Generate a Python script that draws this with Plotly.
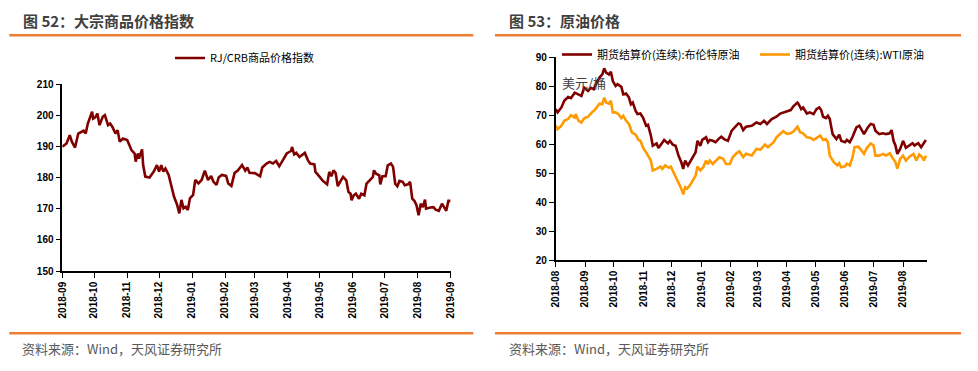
import pandas as pd
import plotly.graph_objects as go

W, H = 978, 371

# ---------------- data ----------------
crb_base = "2018-09-01"
crb_days = [0, 4, 7, 9, 12, 15, 20, 22, 24, 28, 29, 31, 33, 35, 38, 40, 43, 45, 47, 50,
            52, 54, 57, 61, 63, 65, 68, 69, 71, 72, 75, 76, 78, 82, 86, 89, 91, 93, 95, 97,
            100, 103, 105, 108, 110, 112, 114, 116, 118, 120, 123, 125, 128, 131, 134, 137, 140, 142, 145, 147,
            150, 154, 156, 159, 162, 165, 169, 172, 174, 176,
            181, 186, 188, 192, 195, 198, 201, 204, 208, 211, 215, 216, 218, 220, 223, 226, 228, 231, 233, 237,
            238, 242, 245, 249, 251, 253, 255, 257, 259, 262, 264, 267, 269, 271, 272, 274, 276, 279, 281, 284,
            286, 289, 292, 293, 295, 298, 299, 301, 304, 306, 309, 311, 313, 315, 317, 320, 322, 325, 327, 329,
            331, 333, 335, 337, 339, 341, 342, 346, 349, 351, 354, 357, 359, 361, 363, 365]
crb_values = [189.9, 190.9, 193.6, 191.5, 189.6, 194.1, 195.0, 194.1, 197.3, 201.1, 198.9, 199.3, 200.5, 196.8, 199.5, 200.0, 196.8, 197.3, 196.3, 194.1,
              195.2, 191.5, 192.5, 192.0, 190.4, 188.8, 187.7, 185.1, 187.7, 186.1, 189.0, 184.0, 180.3, 180.0, 181.9, 184.0, 181.9, 184.0, 181.9, 182.9,
              180.8, 177.1, 173.9, 171.2, 168.5, 172.8, 170.1, 170.6, 169.6, 173.3, 174.4, 179.2, 178.1, 179.2, 182.2, 179.2, 180.5, 178.7, 177.6, 180.0,
              180.8, 180.5, 178.1, 177.3, 181.5, 182.2, 184.0, 182.2, 183.2, 181.5,
              181.4, 180.4, 183.2, 184.5, 185.0, 184.5, 185.3, 183.6, 186.1, 187.7, 188.5, 189.8, 187.4, 187.9, 186.6, 187.4, 187.9, 185.5, 184.5, 184.2,
              181.8, 180.2, 178.9, 177.8, 181.8, 180.4, 182.3, 181.4, 177.2, 179.1, 180.2, 179.1, 175.4, 174.8, 172.7, 174.3, 174.8, 173.2, 174.8, 174.3,
              178.0, 179.1, 180.2, 182.3, 181.2, 180.7, 177.8, 180.4, 180.4, 183.9, 184.5, 183.4, 178.0, 177.2, 178.9, 178.6, 177.5, 177.8, 178.6, 173.2,
              172.5, 171.1, 167.9, 171.6, 170.5, 172.9, 170.0, 170.4, 170.5, 169.7, 169.3, 171.6, 170.4, 169.3, 172.5, 172.5]

oil_base = "2018-08-01"
brent_days = [0, 2, 6, 9, 13, 16, 20, 23, 27, 30, 34, 37, 40, 43, 46, 49, 51, 53, 56, 58,
              60, 63, 65, 69, 71, 74, 77, 79, 81, 84, 86, 89, 92, 95, 97, 100, 102, 106, 108, 111,
              114, 118, 120, 123, 126, 129, 132, 134, 136, 139, 141, 144, 147, 149, 152, 154, 158, 160, 162, 165,
              168, 171, 174, 177, 181, 185, 188, 192,
              194, 197, 200, 206, 211, 215, 219, 222, 227, 232, 236, 239, 243, 247, 250, 254, 255, 258, 260, 264,
              267, 271, 274, 277, 279, 281, 284, 286, 288, 291, 295, 298, 300, 304, 306, 309, 312, 316, 319, 322,
              324, 328, 331, 334, 336, 340, 344, 347, 351, 353, 355, 357, 359, 362, 365, 368, 371, 375, 377, 381,
              384, 387, 389]
brent_values = [72.0, 70.9, 72.6, 74.9, 76.2, 75.8, 77.7, 77.1, 76.6, 79.4, 78.3, 79.4, 78.9, 81.1, 82.9, 84.0, 86.1, 84.6, 84.0, 84.9,
                81.7, 80.0, 80.6, 79.7, 77.1, 77.4, 76.0, 73.7, 74.3, 71.4, 70.3, 70.5, 68.9, 66.3, 66.6, 62.9, 59.4, 60.2, 58.6, 60.0,
                61.4, 60.2, 61.1, 59.8, 59.4, 56.0, 53.7, 51.4, 54.3, 52.6, 53.7, 55.4, 57.1, 61.1, 59.4, 61.4, 62.3, 60.6, 61.4, 61.1,
                60.6, 61.7, 62.5, 61.7, 61.1, 64.6, 65.7, 67.1,
                66.9, 64.8, 66.0, 66.3, 67.4, 66.9, 68.0, 66.9, 68.6, 69.4, 70.5, 70.9, 71.4, 71.7, 73.1, 74.3, 73.9, 72.0, 72.6, 70.5,
                70.9, 70.3, 72.0, 72.6, 71.7, 69.4, 68.9, 69.7, 68.6, 63.4, 61.7, 63.2, 61.1, 60.6, 61.4, 60.6, 62.5, 65.7, 66.3, 64.8,
                63.4, 65.7, 66.9, 66.6, 64.6, 63.4, 63.7, 63.4, 63.7, 64.8, 61.1, 59.5, 56.6, 58.3, 61.1, 58.7, 59.5, 60.3, 59.5, 60.3,
                58.9, 60.6, 61.4]

wti_days = [0, 2, 6, 9, 13, 16, 20, 21, 24, 27, 30, 34, 38, 41, 46, 49, 51, 53, 56, 58,
            60, 63, 66, 69, 71, 74, 77, 80, 84, 87, 89, 92, 95, 98, 100, 102, 106, 110, 112, 115,
            119, 121, 123, 126, 129, 132, 134, 136, 138, 141, 144, 147, 149, 152, 155, 158, 160, 162, 165, 169,
            172, 176, 179, 183, 186, 190, 193,
            197, 200, 206, 211, 215, 220, 223, 229, 232, 236, 239, 243, 247, 250, 254, 257, 260, 264, 268, 271,
            275, 278, 281, 284, 286, 288, 292, 296, 298, 300, 304, 306, 309, 312, 314, 318, 320, 324, 327, 331,
            334, 336, 340, 344, 347, 351, 354, 357, 359, 362, 365, 368, 372, 376, 379, 382, 385, 387, 389]
wti_values = [66.3, 65.1, 66.3, 68.0, 68.6, 69.9, 69.1, 70.3, 68.0, 67.4, 68.9, 69.4, 70.9, 71.7, 73.9, 73.7, 76.0, 74.3, 73.9, 74.9,
              70.9, 70.9, 70.3, 68.9, 69.7, 68.0, 66.9, 64.0, 63.2, 61.4, 61.1, 58.6, 57.1, 55.4, 54.3, 50.9, 51.4, 52.2, 51.4, 52.6,
              51.8, 52.2, 50.9, 48.6, 46.9, 44.6, 42.6, 45.1, 44.6, 45.7, 47.4, 49.1, 52.2, 50.9, 52.0, 54.3, 53.1, 54.3, 53.1, 54.3,
              55.4, 54.9, 53.1, 53.1, 55.4, 56.8, 57.5,
              55.5, 56.6, 56.0, 58.3, 58.0, 59.8, 58.9, 60.6, 62.3, 63.7, 64.4, 63.5, 63.7, 64.4, 66.0, 64.0, 63.7, 62.3, 62.1, 61.4,
              62.3, 62.9, 61.4, 61.7, 60.6, 56.0, 53.8, 52.6, 53.4, 52.0, 52.3, 53.2, 52.6, 55.5, 58.9, 59.1, 58.3, 56.6, 58.6, 60.2,
              59.5, 56.0, 56.0, 56.6, 56.0, 56.8, 55.2, 53.8, 51.5, 54.9, 56.0, 54.3, 55.7, 56.6, 54.3, 56.4, 55.5, 54.3, 56.0]

assert len(crb_days) == len(crb_values)
assert len(brent_days) == len(brent_values)
assert len(wti_days) == len(wti_values)

crb_dates = pd.Timestamp(crb_base) + pd.to_timedelta(crb_days, unit="D")
brent_dates = pd.Timestamp(oil_base) + pd.to_timedelta(brent_days, unit="D")
wti_dates = pd.Timestamp(oil_base) + pd.to_timedelta(wti_days, unit="D")

left_title = "图 52：大宗商品价格指数"
right_title = "图 53：原油价格"
source_text = "资料来源：Wind，天风证券研究所"
crb_name = "RJ/CRB商品价格指数"
brent_name = "期货结算价(连续):布伦特原油"
wti_name = "期货结算价(连续):WTI原油"
unit_text = "美元/桶"

# ---------------- styling ----------------
DARK_RED = "#800000"
ORANGE_LINE = "#FF9A00"
RULE = "#ED7D31"
CJK = "Noto Sans CJK SC"
TICKFONT = dict(family="Liberation Sans", size=10, color="#000000", weight="bold")


def px(x):
    return x / W


def py(y):
    return 1 - y / H


fig = go.Figure()
fig.add_trace(go.Scatter(x=crb_dates, y=crb_values, mode="lines", name=crb_name,
                         line=dict(color=DARK_RED, width=2.6), xaxis="x", yaxis="y", legend="legend"))
fig.add_trace(go.Scatter(x=brent_dates, y=brent_values, mode="lines", name=brent_name,
                         line=dict(color=DARK_RED, width=2.6), xaxis="x2", yaxis="y2", legend="legend2"))
fig.add_trace(go.Scatter(x=wti_dates, y=wti_values, mode="lines", name=wti_name,
                         line=dict(color=ORANGE_LINE, width=2.6), xaxis="x2", yaxis="y2", legend="legend3"))

axis_common = dict(showgrid=False, zeroline=False, showline=True, linecolor="#000000", linewidth=1.5,
                   ticks="outside", ticklen=5, tickwidth=1.2, tickcolor="#000000", tickfont=TICKFONT,
                   automargin=False)

legend_font = dict(family=CJK, size=11, color="#000000")

fig.update_layout(
    width=W, height=H, autosize=False,
    margin=dict(l=0, r=0, t=0, b=0, pad=0, autoexpand=False),
    paper_bgcolor="white", plot_bgcolor="white",
    xaxis=dict(domain=[px(62.3), px(450.7)], anchor="y", type="date",
               range=["2018-09-01", "2019-09-01 04:00"], dtick="M1", tick0="2018-09-01",
               tickformat="%Y-%m", tickangle=-90, **axis_common),
    yaxis=dict(domain=[py(271), py(84)], anchor="x", range=[150, 210], dtick=10, **axis_common),
    xaxis2=dict(domain=[px(555.7), px(927.3)], anchor="y2", type="date",
                range=["2018-08-01", "2019-08-26 12:00"], dtick="M1", tick0="2018-08-01",
                tickformat="%Y-%m", tickangle=-90, **axis_common),
    yaxis2=dict(domain=[py(260), py(57)], anchor="x2", range=[20, 90], dtick=10, **axis_common),
    legend=dict(x=px(170), y=py(58), xanchor="left", yanchor="middle", orientation="h",
                bgcolor="rgba(0,0,0,0)", font=legend_font),
    legend2=dict(x=px(557), y=py(54.5), xanchor="left", yanchor="middle", orientation="h",
                 bgcolor="rgba(0,0,0,0)", font=legend_font),
    legend3=dict(x=px(755), y=py(54.5), xanchor="left", yanchor="middle", orientation="h",
                 bgcolor="rgba(0,0,0,0)", font=legend_font),
    showlegend=True,
)

# rules
for (x0, x1) in [(9.3, 473.3), (495, 961)]:
    for yy in (35.3, 333.3):
        fig.add_shape(type="line", xref="paper", yref="paper", x0=px(x0), x1=px(x1), y0=py(yy), y1=py(yy),
                      line=dict(color=RULE, width=2.5))

# titles and sources
for (xx, txt) in [(20.5, left_title), (506.5, right_title)]:
    fig.add_annotation(text=f"<b>{txt}</b>", xref="paper", yref="paper", x=px(xx), y=py(20.5),
                       xanchor="left", yanchor="middle", showarrow=False,
                       font=dict(family=CJK, size=15, color="#404040"))
for xx in (20, 506.5):
    fig.add_annotation(text=source_text, xref="paper", yref="paper", x=px(xx), y=py(348.5),
                       xanchor="left", yanchor="middle", showarrow=False,
                       font=dict(family=CJK, size=13, color="#595959"))

fig.add_annotation(text=unit_text, xref="paper", yref="paper", x=px(559.5), y=py(82.5),
                   xanchor="left", yanchor="middle", showarrow=False,
                   font=dict(family=CJK, size=13, color="#404040"))

# place the fixed-size figure at the page origin (no default body margin)
fig.write_html("out.html", config={"displayModeBar": False},
               post_script="document.body.style.margin='0';")
